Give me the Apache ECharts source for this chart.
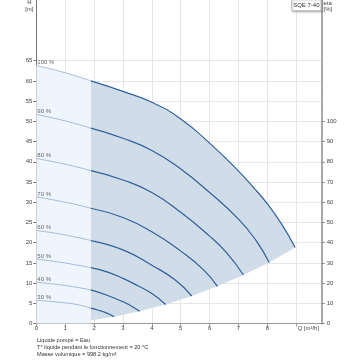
<!DOCTYPE html>
<html><head><meta charset="utf-8">
<script src="https://cdn.jsdelivr.net/npm/echarts@6/dist/echarts.min.js"></script>
<style>html,body{margin:0;padding:0;background:#fff}#c{width:360px;height:360px}</style>
</head><body><div id="c"></div>
<script>
// ---- data ----
const speedLabels = ['100 %','90 %','80 %','70 %','60 %','50 %','40 %','30 %'];
const q100 = [0, 1, 1.89, 3, 4, 5, 6, 7, 7.5, 8, 8.5, 8.96];
const h100 = [63.8, 62.0, 60.0, 57.4, 54.7, 50.6, 44.6, 37.7, 33.8, 29.6, 24.5, 18.8];
const q90 = [0, 1, 1.89, 3, 4, 5, 6, 7, 7.6, 8.06];
const h90 = [51.7, 50.1, 48.3, 45.8, 42.8, 38.2, 32.4, 25.8, 20.6, 15.1];
const q80 = [0, 1, 1.89, 3, 4, 5, 6, 6.6, 7.17];
const h80 = [40.8, 39.4, 37.8, 35.5, 32.4, 27.5, 21.6, 17.4, 12.0];
const q70 = [0, 1, 1.89, 3, 4, 5, 5.8, 6.27];
const h70 = [31.3, 30.0, 28.5, 26.2, 22.7, 17.9, 13.2, 9.2];
const q60 = [0, 1, 1.89, 3, 4, 4.8, 5.38];
const h60 = [23.0, 21.9, 20.5, 18.2, 14.4, 10.8, 6.8];
const q50 = [0, 1, 1.89, 2.5, 3, 3.5, 4, 4.48];
const h50 = [15.95, 14.95, 13.8, 12.65, 11.15, 9.4, 7.4, 4.7];
const q40 = [0, 1, 1.89, 2.4, 3, 3.2, 3.58];
const h40 = [10.2, 9.4, 8.3, 7.1, 5.4, 4.7, 3.0];
const q30 = [0, 1, 1.5, 1.89, 2.1, 2.4, 2.69];
const h30 = [5.74, 5.1, 4.55, 3.8, 3.4, 2.7, 1.7];
// lower limit of the operating range
const limitQ = [1.89, 2.69, 3.58, 4.48, 5.38, 6.27, 7.17, 8.06, 8.96];
const limitH = [0.8, 1.7, 3.0, 4.7, 6.8, 9.2, 12.0, 15.1, 18.8];
const splitQ = 1.89;
const xTicks = [0, 1, 2, 3, 4, 5, 6, 7, 8, 9];
const leftTicks = [0, 5, 10, 15, 20, 25, 30, 35, 40, 45, 50, 55, 60, 65];
const rightTicks = [0, 10, 20, 30, 40, 50, 60, 70, 80, 90, 100];
const notes = ['Liquide pompé = Eau', 'T° liquide pendant le fonctionnement = 20 °C', 'Masse volumique = 998.2 kg/m³'];

// ---- build ----
const curves = [[q100,h100],[q90,h90],[q80,h80],[q70,h70],[q60,h60],[q50,h50],[q40,h40],[q30,h30]];
const pts = (q,h) => q.map((v,i)=>[v,h[i]]);
const LIGHT_LINE = '#a6bad5', DARK_LINE = '#2f609b';
const series = [];

// dark operating region polygon
const upper = pts(q100,h100).filter(d=>d[0]>=splitQ);
const lower = pts(limitQ,limitH).reverse();
const poly = upper.concat(lower);
series.push({
  type:'custom', z:1, silent:true,
  data:[poly[0]],
  renderItem:function(params, api){
    return {type:'polygon', shape:{points: poly.map(p=>api.coord(p))},
      style:{fill:'#d0dce8', stroke:'none'}};
  }
});

curves.forEach((c,i)=>{
  const p = pts(c[0],c[1]);
  const light = p.filter(d=>d[0]<=splitQ);
  const dark = p.filter(d=>d[0]>=splitQ);
  const s1 = {type:'line', data:light, symbol:'none', smooth:true, silent:true, z:3,
    lineStyle:{color:LIGHT_LINE, width:1}};
  if(i===0){ s1.areaStyle = {color:'#eef5fc', opacity:1}; s1.z = 2; }
  series.push(s1);
  series.push({type:'line', data:dark, symbol:'none', smooth:true, silent:true, z:4,
    lineStyle:{color:DARK_LINE, width:1.2}});
});

series.push({
  type:'scatter', symbolSize:0, silent:true, z:5,
  data: curves.map(c=>[c[0][0], c[1][0]]),
  label:{show:true, position:'right', distance:1, offset:[0,-3],
    formatter:p=>speedLabels[p.dataIndex], fontSize:6, color:'#444', fontFamily:'Liberation Sans, Arial, sans-serif'}
});

const FONT = 'Liberation Sans, Arial, sans-serif';
const option = {
  animation:false,
  grid:{left:36.3, right:38.3, top:0, bottom:36.5, containLabel:false},
  xAxis:{type:'value', min:0, max:9.88, interval:1,
    axisLine:{show:true, lineStyle:{color:'#999', width:1}},
    axisTick:{show:true, length:3, lineStyle:{color:'#999'}, customValues:xTicks},
    axisLabel:{customValues:xTicks, fontSize:6, color:'#444', margin:2, fontFamily:FONT,
      formatter:v=> v===9 ? '{q|Q [m³/h]}' : String(v),
      rich:{q:{fontSize:6, color:'#444', fontFamily:FONT, padding:[0,0,0,24]}}},
    splitLine:{show:true, lineStyle:{color:'#e6e6e6', width:1}}},
  yAxis:[
    {type:'value', min:0, max:80, interval:5, position:'left',
      axisLine:{show:true, lineStyle:{color:'#777', width:1}},
      axisTick:{show:true, length:3, lineStyle:{color:'#777'}, customValues:leftTicks},
      axisLabel:{customValues:leftTicks, fontSize:6, color:'#444', margin:4, fontFamily:FONT},
      splitLine:{show:true, lineStyle:{color:'#e6e6e6', width:1}}},
    {type:'value', min:0, max:160, interval:10, position:'right',
      axisLine:{show:true, lineStyle:{color:'#aaa', width:2}},
      axisTick:{show:true, length:3, lineStyle:{color:'#888'}, customValues:rightTicks},
      axisLabel:{customValues:rightTicks, fontSize:6, color:'#444', margin:5, fontFamily:FONT},
      splitLine:{show:false}}
  ],
  series:series,
  graphic:[
    {type:'text', x:29.3, y:2, style:{text:'H', fontSize:6, fill:'#444', align:'center', verticalAlign:'middle', fontFamily:FONT}},
    {type:'text', x:29.3, y:9.5, style:{text:'[m]', fontSize:6, fill:'#444', align:'center', verticalAlign:'middle', fontFamily:FONT}},
    {type:'text', x:323.5, y:3, style:{text:'eta', fontSize:6, fill:'#444', align:'left', verticalAlign:'middle', fontFamily:FONT}},
    {type:'text', x:323.5, y:9.5, style:{text:'[%]', fontSize:6, fill:'#444', align:'left', verticalAlign:'middle', fontFamily:FONT}},
    {type:'rect', x:291.5, y:-1, z:10, shape:{width:29.5, height:11.5},
      style:{fill:'#fff', stroke:'#c8c8c8', lineWidth:1, shadowBlur:2, shadowColor:'rgba(0,0,0,0.25)', shadowOffsetX:1, shadowOffsetY:1}},
    {type:'text', x:306.3, y:5, z:11, style:{text:'SQE 7-40', fontSize:6, fill:'#333', align:'center', verticalAlign:'middle', fontFamily:FONT}},
    {type:'text', x:37, y:340, style:{text:notes[0], fontSize:5.6, fill:'#333', align:'left', verticalAlign:'middle', fontFamily:FONT}},
    {type:'text', x:37, y:347.3, style:{text:notes[1], fontSize:5.6, fill:'#333', align:'left', verticalAlign:'middle', fontFamily:FONT}},
    {type:'text', x:37, y:354.5, style:{text:notes[2], fontSize:5.6, fill:'#333', align:'left', verticalAlign:'middle', fontFamily:FONT}}
  ]
};
const chart = echarts.init(document.getElementById('c'), null, {renderer:'canvas', width:360, height:360});
chart.setOption(option);
</script>
</body></html>
